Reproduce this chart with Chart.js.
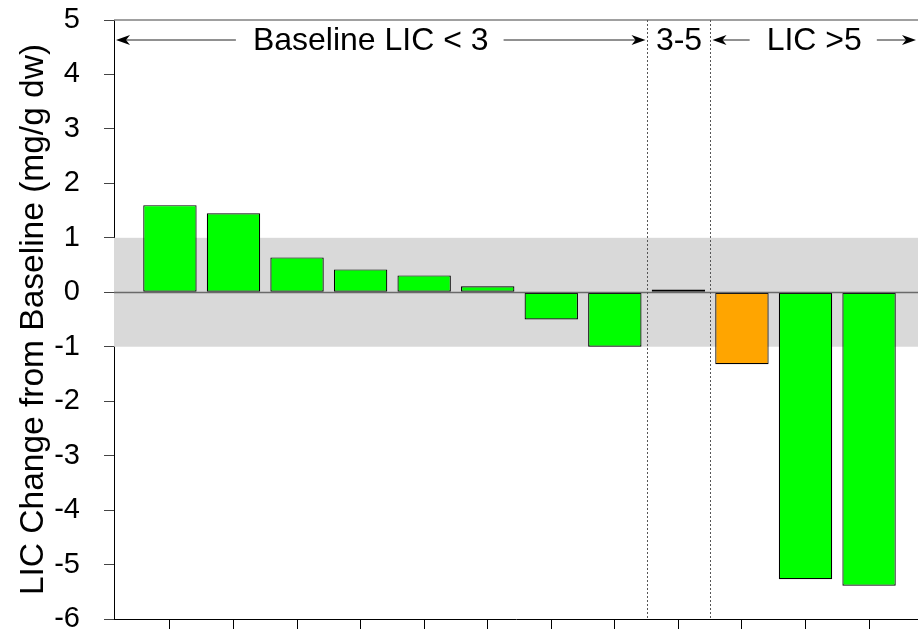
<!DOCTYPE html>
<html>
<head>
<meta charset="utf-8">
<script src="https://cdn.jsdelivr.net/npm/chart.js@4.4.0/dist/chart.umd.min.js"></script>
<style>
    html, body { margin: 0; padding: 0; background: #fff; overflow: hidden; }
    canvas { display: block; }
</style>
</head>
<body>
<canvas id="chartCanvas" width="918" height="634"></canvas>
<script>
// ============================================
// DATA
// ============================================
const patients = ['1', '2', '3', '4', '5', '6', '7', '8', '9', '10', '11', '12'];
const licChange = [1.60, 1.45, 0.64, 0.42, 0.31, 0.11, -0.50, -1.00, 0.05, -1.32, -5.27, -5.39];
const orangePatients = ['10'];

const groupLabels = ['Baseline LIC < 3', '3-5', 'LIC >5'];
const groupSizes = [8, 1, 3];

const yMin = -6;
const yMax = 5;
const normalBand = [-1, 1];
const yTitle = 'LIC Change from Baseline (mg/g dw)';

// ============================================
// STYLE
// ============================================
const FONT = '"Liberation Sans", Arial, Helvetica, sans-serif';
const GREEN = '#00ff00';
const ORANGE = '#ffa500';

function getEl(id) {
    return document.getElementById(id);
}

function drawArrow(ctx, fromX, toX, y) {
    const dir = toX > fromX ? 1 : -1;
    ctx.beginPath();
    ctx.moveTo(fromX, y);
    ctx.lineTo(toX - dir * 8, y);
    ctx.stroke();
    ctx.beginPath();
    ctx.moveTo(toX, y);
    ctx.lineTo(toX - dir * 14, y - 5);
    ctx.lineTo(toX - dir * 10, y);
    ctx.lineTo(toX - dir * 14, y + 5);
    ctx.closePath();
    ctx.fill();
}

// band, zero line, frame, group separators and labels
const licDecor = {
    id: 'licDecor',
    beforeDatasetsDraw: function(chart) {
        const ctx = chart.ctx;
        const a = chart.chartArea;
        const y = chart.scales.y;
        const top = y.getPixelForValue(normalBand[1]);
        const bottom = y.getPixelForValue(normalBand[0]);
        ctx.save();
        ctx.fillStyle = '#d9d9d9';
        ctx.fillRect(a.left, top, a.right - a.left, bottom - top);
        ctx.restore();
    },
    afterDatasetsDraw: function(chart) {
        const ctx = chart.ctx;
        const a = chart.chartArea;
        const x = chart.scales.x;
        const y = chart.scales.y;
        ctx.save();

        // zero line
        const y0 = Math.round(y.getPixelForValue(0)) + 0.5;
        ctx.strokeStyle = '#6a6a6a';
        ctx.lineWidth = 1.5;
        ctx.beginPath();
        ctx.moveTo(a.left, y0);
        ctx.lineTo(a.right, y0);
        ctx.stroke();

        // top frame
        ctx.strokeStyle = '#808080';
        ctx.beginPath();
        ctx.moveTo(a.left, a.top);
        ctx.lineTo(a.right, a.top);
        ctx.stroke();

        // group edges
        const edges = [a.left];
        let count = 0;
        for (let i = 0; i < groupSizes.length - 1; i++) {
            count += groupSizes[i];
            edges.push(Math.round(x.getPixelForValue(count + 0.5)) + 0.5);
        }
        edges.push(a.right);

        ctx.strokeStyle = '#555';
        ctx.lineWidth = 1;
        ctx.setLineDash([2, 2]);
        for (let i = 1; i < edges.length - 1; i++) {
            ctx.beginPath();
            ctx.moveTo(edges[i], a.top);
            ctx.lineTo(edges[i], a.bottom);
            ctx.stroke();
        }
        ctx.setLineDash([]);

        // group labels with arrows
        const labelY = a.top + 21;
        ctx.font = '32px ' + FONT;
        ctx.fillStyle = '#000';
        ctx.strokeStyle = '#222';
        ctx.lineWidth = 1;
        ctx.textAlign = 'center';
        ctx.textBaseline = 'middle';
        for (let i = 0; i < groupLabels.length; i++) {
            const left = edges[i];
            const right = edges[i + 1];
            const w = ctx.measureText(groupLabels[i]).width;
            // first label sits a little left of its span centre
            const mid = (left + right) / 2 - (i === 0 ? 10 : 0);
            ctx.fillText(groupLabels[i], mid, labelY);
            if (right - left - w > 60) {
                drawArrow(ctx, mid - w / 2 - 17, left + 2, labelY - 1);
                drawArrow(ctx, mid + w / 2 + 15, right - 2, labelY - 1);
            }
        }
        ctx.restore();
    }
};

// ============================================
// CHART
// ============================================
function buildChart() {
    const ctx = getEl('chartCanvas').getContext('2d');

    const points = patients.map(function(p, i) {
        return { x: i + 1, y: licChange[i] };
    });
    const colors = patients.map(function(p) {
        return orangePatients.indexOf(p) >= 0 ? ORANGE : GREEN;
    });

    return new Chart(ctx, {
        type: 'bar',
        data: {
            datasets: [{
                data: points,
                backgroundColor: colors,
                borderColor: '#000',
                borderWidth: 1.2,
                borderSkipped: false,
                barPercentage: 0.84,
                categoryPercentage: 1.0
            }]
        },
        options: {
            responsive: false,
            animation: false,
            layout: { padding: { top: 20, right: 0, bottom: 0, left: 0 } },
            plugins: {
                legend: { display: false },
                tooltip: { enabled: false }
            },
            scales: {
                x: {
                    type: 'linear',
                    min: 0.12,
                    max: 12.77,
                    offset: false,
                    afterBuildTicks: function(scale) {
                        scale.ticks = patients.map(function(p, i) {
                            return { value: i + 1 };
                        });
                    },
                    afterFit: function(scale) {
                        scale.height = 15;
                        scale.paddingLeft = 0;
                        scale.paddingRight = 0;
                    },
                    ticks: { display: false },
                    grid: {
                        offset: false,
                        drawOnChartArea: false,
                        drawTicks: true,
                        tickLength: 10,
                        color: '#000'
                    },
                    border: { display: true, color: '#000', width: 1 }
                },
                y: {
                    min: yMin,
                    max: yMax,
                    afterFit: function(scale) {
                        scale.width = 114;
                        scale.paddingTop = 0;
                        scale.paddingBottom = 0;
                    },
                    ticks: {
                        stepSize: 1,
                        padding: 24,
                        color: '#000',
                        font: { family: FONT, size: 29 }
                    },
                    grid: {
                        drawOnChartArea: false,
                        tickLength: 10,
                        color: '#444'
                    },
                    border: { display: true, color: '#000', width: 1 },
                    title: {
                        display: true,
                        text: yTitle,
                        color: '#000',
                        font: { family: FONT, size: 33.5 },
                        padding: { top: 14, bottom: 0 }
                    }
                }
            }
        },
        plugins: [licDecor]
    });
}

buildChart();
</script>
</body>
</html>
